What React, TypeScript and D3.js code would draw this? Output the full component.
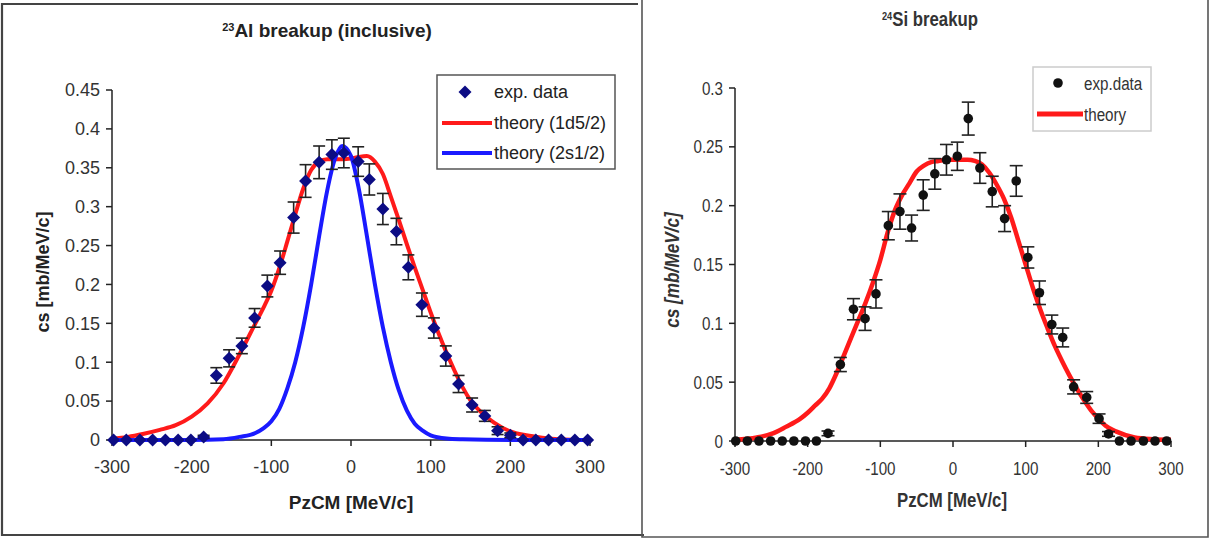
import React from "react";
import * as d3 from "d3";

// ---------- 23Al panel data ----------
const alExpX = [-298, -282, -265, -249, -233, -217, -201, -185, -169, -153, -137, -121, -105, -89, -72, -57, -40, -24, -9,
  9, 23, 40, 57, 72, 89, 104, 119, 135, 152, 168, 184, 200, 216, 232, 248, 264, 281, 297];
const alExpY = [0, 0, 0, 0, 0, 0, 0, 0.004, 0.083, 0.105, 0.121, 0.157, 0.198, 0.228, 0.286, 0.333, 0.357, 0.367, 0.369,
  0.358, 0.335, 0.297, 0.268, 0.222, 0.174, 0.144, 0.108, 0.072, 0.045, 0.031, 0.012, 0.006, 0, 0, 0, 0, 0, 0];
const alExpErr = [0, 0, 0, 0, 0, 0, 0, 0.002, 0.010, 0.011, 0.010, 0.012, 0.014, 0.015, 0.020, 0.021, 0.021, 0.019, 0.019,
  0.019, 0.020, 0.020, 0.017, 0.016, 0.015, 0.013, 0.013, 0.011, 0.009, 0.007, 0.005, 0.003, 0, 0, 0, 0, 0, 0];

const al1dX = [-300, -280, -260, -240, -220, -200, -180, -160, -140, -120, -110, -100, -90, -80, -70, -60, -50, -40, -30, -20, -10, 0,
  10, 20, 30, 40, 50, 60, 70, 80, 90, 100, 110, 120, 130, 140, 150, 160, 170, 180, 200, 220, 240, 260, 300];
const al1dY = [0.002, 0.004, 0.008, 0.013, 0.019, 0.030, 0.047, 0.073, 0.110, 0.150, 0.170, 0.192, 0.221, 0.255, 0.290, 0.323, 0.347, 0.358, 0.361, 0.361, 0.361, 0.362,
  0.364, 0.365, 0.358, 0.342, 0.313, 0.283, 0.252, 0.222, 0.193, 0.164, 0.137, 0.112, 0.089, 0.068, 0.051, 0.039, 0.030, 0.022, 0.011, 0.006, 0.003, 0.001, 0];

const al2sX = [-300, -200, -160, -140, -120, -110, -100, -90, -80, -70, -60, -50, -40, -30, -20, -11, 0, 10, 20, 30, 40, 50, 60, 70, 80, 90, 100, 120, 140, 200, 300];
const al2sY = [0, 0, 0.001, 0.004, 0.009, 0.015, 0.024, 0.040, 0.066, 0.100, 0.145, 0.200, 0.262, 0.320, 0.362, 0.378, 0.365, 0.322, 0.262, 0.200, 0.145, 0.100, 0.064, 0.038, 0.021, 0.012, 0.006, 0.002, 0.001, 0, 0];

const alYTicks = [0, 0.05, 0.1, 0.15, 0.2, 0.25, 0.3, 0.35, 0.4, 0.45];
const xTicks = [-300, -200, -100, 0, 100, 200, 300];

// ---------- 24Si panel data ----------
const siExpX = [-299, -283, -267, -251, -235, -219, -203, -188, -172, -155, -137, -121, -106, -89, -73, -57, -41, -25, -9,
  6, 21, 37, 54, 71, 87, 103, 119, 136, 151, 166, 184, 201, 214, 229, 245, 262, 278, 294];
const siExpY = [0, 0, 0, 0, 0, 0, 0, 0, 0.0065, 0.065, 0.112, 0.104, 0.125, 0.183, 0.195, 0.181, 0.209, 0.227, 0.239,
  0.242, 0.274, 0.232, 0.212, 0.189, 0.221, 0.156, 0.126, 0.099, 0.088, 0.046, 0.037, 0.019, 0.006, 0, 0, 0, 0, 0];
const siExpErr = [0, 0, 0, 0, 0, 0, 0, 0, 0.002, 0.006, 0.009, 0.010, 0.012, 0.012, 0.015, 0.011, 0.013, 0.013, 0.013,
  0.012, 0.014, 0.013, 0.013, 0.011, 0.013, 0.009, 0.010, 0.008, 0.008, 0.006, 0.005, 0.004, 0.002, 0, 0, 0, 0, 0];

const siThX = [-300, -270, -250, -230, -210, -200, -190, -180, -170, -160, -150, -140, -130, -120, -110, -100, -90, -80, -70, -60, -50, -40, -30, -20, -10,
  0, 10, 20, 30, 40, 50, 60, 70, 80, 90, 100, 110, 120, 130, 140, 150, 160, 170, 180, 190, 200, 210, 225, 250, 275, 300];
const siThY = [0.001, 0.003, 0.006, 0.012, 0.019, 0.024, 0.030, 0.036, 0.045, 0.058, 0.073, 0.088, 0.103, 0.118, 0.135, 0.154, 0.177, 0.196, 0.209, 0.219, 0.229, 0.234, 0.237, 0.238, 0.239,
  0.239, 0.239, 0.239, 0.238, 0.235, 0.228, 0.218, 0.206, 0.190, 0.170, 0.150, 0.130, 0.112, 0.096, 0.081, 0.068, 0.056, 0.045, 0.035, 0.026, 0.019, 0.013, 0.008, 0.003, 0.0015, 0.001];

const siYTicks = [0, 0.05, 0.1, 0.15, 0.2, 0.25, 0.3];

const fmt = (v: number) => String(+v.toFixed(2));
const zip = (xs: number[], ys: number[]) => xs.map((x, i) => [x, ys[i]] as [number, number]);

const FONT = "'Liberation Sans', Arial, sans-serif";

// text with horizontal scaling (used to mimic a condensed face)
function T({ x, y, sx = 1, rot = 0, anchor = "start", size, bold = false, italic = false, fill = "#222", children }: any) {
  const tf = `translate(${x},${y})${rot ? ` rotate(${rot})` : ""}${sx !== 1 ? ` scale(${sx},1)` : ""}`;
  return (
    <text transform={tf} dy="0.35em" textAnchor={anchor} fontFamily={FONT} fontSize={size}
      fontWeight={bold ? "bold" : "normal"} fontStyle={italic ? "italic" : "normal"} fill={fill}>
      {children}
    </text>
  );
}

function Axes({ x, y, yTicks, size, sx, color, labelGap }: any) {
  const [x0, x1] = x.range();
  const [y0, y1] = y.range();
  return (
    <g>
      <line x1={x0} x2={x0} y1={y0} y2={y1} stroke="#222" strokeWidth={1.5} />
      <line x1={x0} x2={x1} y1={y0} y2={y0} stroke="#222" strokeWidth={1.5} />
      {yTicks.map((t: number) => (
        <g key={"y" + t}>
          <line x1={x0 - 6} x2={x0} y1={y(t)} y2={y(t)} stroke="#222" strokeWidth={1.5} />
          <T x={x0 - 12} y={y(t)} anchor="end" size={size} sx={sx} fill={color}>{fmt(t)}</T>
        </g>
      ))}
      {xTicks.map((t) => (
        <g key={"x" + t}>
          <line x1={x(t)} x2={x(t)} y1={y0} y2={y0 + 6} stroke="#222" strokeWidth={1.5} />
          <T x={x(t)} y={y0 + labelGap} anchor="middle" size={size} sx={sx} fill={color}>{t}</T>
        </g>
      ))}
    </g>
  );
}

function ErrorBars({ x, y, xs, ys, es, cap }: any) {
  return (
    <g stroke="#222" strokeWidth={1.6}>
      {xs.map((xv: number, i: number) =>
        es[i] > 0 ? (
          <g key={i}>
            <line x1={x(xv)} x2={x(xv)} y1={y(ys[i] - es[i])} y2={y(ys[i] + es[i])} />
            <line x1={x(xv) - cap} x2={x(xv) + cap} y1={y(ys[i] - es[i])} y2={y(ys[i] - es[i])} />
            <line x1={x(xv) - cap} x2={x(xv) + cap} y1={y(ys[i] + es[i])} y2={y(ys[i] + es[i])} />
          </g>
        ) : null
      )}
    </g>
  );
}

const diamond = (cx: number, cy: number, r: number) => `M${cx},${cy - r}L${cx + r},${cy}L${cx},${cy + r}L${cx - r},${cy}Z`;

export default function App() {
  // left panel
  const xL = d3.scaleLinear().domain([-300, 300]).range([112, 590]);
  const yL = d3.scaleLinear().domain([0, 0.45]).range([440, 90]);
  const lineL = d3.line<[number, number]>().x((d) => xL(d[0])).y((d) => yL(d[1])).curve(d3.curveMonotoneX);

  // right panel
  const xR = d3.scaleLinear().domain([-300, 300]).range([735, 1171]);
  const yR = d3.scaleLinear().domain([0, 0.3]).range([441, 88]);
  const lineR = d3.line<[number, number]>().x((d) => xR(d[0])).y((d) => yR(d[1])).curve(d3.curveMonotoneX);

  const SXR = 0.8;

  return (
    <div style={{ position: "absolute", left: 0, top: 0 }}>
      <svg width={1213} height={539} style={{ display: "block", background: "#fff" }}>
        <rect x={0} y={0} width={1213} height={539} fill="#fff" />
        {/* panel frames */}
        <polyline points="638,4 2,4 2,535 644,535" fill="none" stroke="#444" strokeWidth={2.2} />
        <polyline points="642,0 642,537 1208,537 1208,0" fill="none" stroke="#555" strokeWidth={1.6} />

        {/* ===== Left panel ===== */}
        <text x={327} y={37} textAnchor="middle" fontFamily={FONT} fontWeight="bold" fontSize={19} fill="#222">
          <tspan fontSize={11} dy={-6}>23</tspan>
          <tspan dy={6}>Al breakup (inclusive)</tspan>
        </text>
        <Axes x={xL} y={yL} yTicks={alYTicks} size={18} sx={1} color="#333" labelGap={27} />
        <path d={lineL(zip(al1dX, al1dY)) || ""} fill="none" stroke="#ff1a1a" strokeWidth={4} />
        <path d={lineL(zip(al2sX, al2sY)) || ""} fill="none" stroke="#1a1aff" strokeWidth={4} />
        <ErrorBars x={xL} y={yL} xs={alExpX} ys={alExpY} es={alExpErr} cap={6} />
        {alExpX.map((xv, i) => (
          <path key={i} d={diamond(xL(xv), yL(alExpY[i]), 6.5)} fill="#0c0c84" />
        ))}
        <T x={351} y={502} anchor="middle" size={19} bold>PzCM [MeV/c]</T>
        <T x={43} y={272} rot={-90} anchor="middle" size={18} bold>cs [mb/MeV/c]</T>
        {/* legend */}
        <rect x={437} y={75} width={178} height={94} fill="#fff" stroke="#555" strokeWidth={1.5} />
        <path d={diamond(465, 92, 6.5)} fill="#0c0c84" />
        <T x={494} y={92} size={18}>exp. data</T>
        <line x1={442} x2={492} y1={123} y2={123} stroke="#ff1a1a" strokeWidth={4} />
        <T x={494} y={123} size={18}>theory (1d5/2)</T>
        <line x1={442} x2={492} y1={153} y2={153} stroke="#1a1aff" strokeWidth={4} />
        <T x={494} y={153} size={18}>theory (2s1/2)</T>

        {/* ===== Right panel ===== */}
        <g transform={`translate(930,26) scale(0.84,1)`}>
          <text x={0} y={0} dy="0.35em" textAnchor="middle" fontFamily={FONT} fontWeight="bold" fontSize={20} fill="#333">
            <tspan fontSize={11} dy={-6}>24</tspan>
            <tspan dy={6}>Si breakup</tspan>
          </text>
        </g>
        <Axes x={xR} y={yR} yTicks={siYTicks} size={19} sx={SXR} color="#333" labelGap={27} />
        <path d={lineR(zip(siThX, siThY)) || ""} fill="none" stroke="#ff1a1a" strokeWidth={4.5} />
        <ErrorBars x={xR} y={yR} xs={siExpX} ys={siExpY} es={siExpErr} cap={6.5} />
        {siExpX.map((xv, i) => (
          <circle key={i} cx={xR(xv)} cy={yR(siExpY[i])} r={4.8} fill="#111" />
        ))}
        <T x={952} y={500} anchor="middle" size={20} sx={0.84} bold fill="#333">PzCM [MeV/c]</T>
        <T x={672} y={270} rot={-90} anchor="middle" size={20} sx={0.86} bold italic fill="#333">cs [mb/MeV/c]</T>
        {/* legend */}
        <rect x={1033} y={67} width={118} height={64} fill="#fff" stroke="#ccc" strokeWidth={1.5} />
        <circle cx={1058} cy={83} r={4.8} fill="#111" />
        <T x={1084} y={83} size={19} sx={SXR} fill="#333">exp.data</T>
        <line x1={1037} x2={1083} y1={114} y2={114} stroke="#ff1a1a" strokeWidth={5} />
        <T x={1084} y={114} size={19} sx={SXR} fill="#333">theory</T>
      </svg>
    </div>
  );
}
